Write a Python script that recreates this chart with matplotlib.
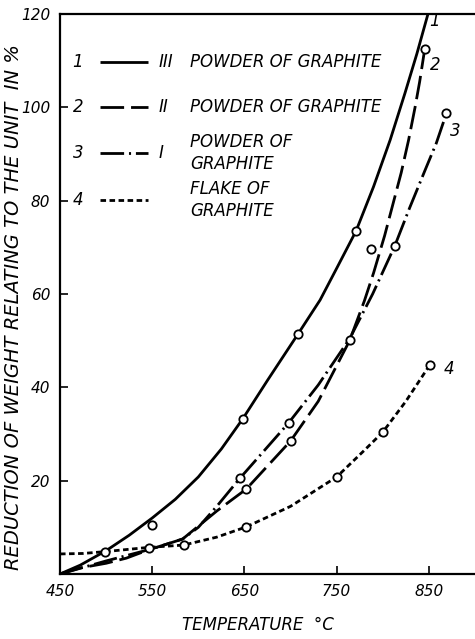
import matplotlib
matplotlib.use("Agg")
import matplotlib.pyplot as plt

plt.rcParams['font.family'] = ['Liberation Sans Narrow', 'DejaVu Sans']
plt.rcParams['font.style'] = 'italic'
plt.rcParams['lines.scale_dashes'] = False

# curve 1 - III powder of graphite
t1 = [450, 472, 500, 525, 550, 575, 600, 625, 648, 675, 708, 732, 750, 771, 790, 808, 824, 837, 849]
w1 = [0, 1.9, 5.0, 8.3, 12.0, 16.0, 20.8, 26.8, 33.2, 41.5, 51.4, 58.7, 65.5, 73.5, 83.0, 93.0, 103.0, 111.5, 120.0]
pt1 = [550, 648, 708, 771]
pw1 = [10.5, 33.2, 51.4, 73.5]

# curve 2 - II powder of graphite
t2 = [450, 472, 500, 522, 545, 583, 620, 652, 700, 730, 764, 780, 790, 802, 812, 820, 828, 835, 840, 845.5]
w2 = [0, 1.3, 2.3, 3.4, 5.1, 7.5, 13.5, 18.2, 28.5, 37.0, 50.0, 58.5, 64.5, 72.5, 80.0, 86.0, 93.0, 100.0, 105.5, 112.5]
pt2 = [652, 700, 764, 787, 845.5]
pw2 = [18.2, 28.5, 50.2, 69.6, 112.5]

# curve 3 - I powder of graphite
t3 = [450, 475, 500, 550, 583, 600, 620, 645, 698, 730, 764, 789, 813, 829, 846, 858, 869]
w3 = [0, 1.4, 2.8, 5.4, 7.5, 10.0, 14.5, 20.5, 32.4, 40.5, 50.4, 60.0, 70.3, 78.4, 86.6, 92.3, 98.7]
pt3 = [645, 698, 813, 869]
pw3 = [20.5, 32.4, 70.3, 98.7]

# curve 4 - flake of graphite
t4 = [450, 475, 499, 546, 584, 620, 652, 700, 750, 780, 800, 825, 851]
w4 = [4.3, 4.4, 4.8, 5.7, 6.2, 7.9, 10.1, 14.5, 20.8, 26.5, 30.4, 37.0, 44.8]
pt4 = [499, 546, 584, 652, 750, 800, 851]
pw4 = [4.8, 5.6, 6.2, 10.1, 20.8, 30.4, 44.8]

xticks = [450, 550, 650, 750, 850]
yticks = [20, 40, 60, 80, 100, 120]

styles = [
    (t1, w1, pt1, pw1, (0, ())),
    (t2, w2, pt2, pw2, (0, (17, 5))),
    (t3, w3, pt3, pw3, (0, (17, 3.5, 1.5, 3.5))),
    (t4, w4, pt4, pw4, (0, (4, 2.5))),
]

fig = plt.figure(figsize=(4.75, 6.39), dpi=100)
ax = fig.add_axes([60 / 475, 1 - 574 / 639, 415 / 475, 560 / 639])

for t, w, pt, pw, ls in styles:
    ax.plot(t, w, color='black', lw=2.0, linestyle=ls, solid_capstyle='butt')
    ax.plot(pt, pw, 'o', color='black', mfc='white', mew=1.3, ms=6, zorder=5)

# curve numbers at the line ends
ax.text(850, 118.5, '1', fontsize=12, va='center', ha='left')
ax.text(851, 109, '2', fontsize=12, va='center', ha='left')
ax.text(873, 95, '3', fontsize=12, va='center', ha='left')
ax.text(866, 44, '4', fontsize=12, va='center', ha='left')

# key in the upper left corner
rows = [0.914, 0.834, 0.752, 0.668]
nums = ['1', '2', '3', '4']
romans = ['III', 'II', 'I', '']
names = [['POWDER OF GRAPHITE'], ['POWDER OF GRAPHITE'],
         ['POWDER OF', 'GRAPHITE'], ['FLAKE OF', 'GRAPHITE']]
for y, n, r, nm, st in zip(rows, nums, romans, names, styles):
    ax.text(0.043, y, n, transform=ax.transAxes, fontsize=12, ha='center', va='center')
    ax.plot([0.096, 0.212], [y, y], transform=ax.transAxes, color='black',
            lw=2.0, linestyle=st[4], solid_capstyle='butt')
    if r:
        ax.text(0.238, y, r, transform=ax.transAxes, fontsize=12, ha='left', va='center')
    if len(nm) == 1:
        ax.text(0.313, y, nm[0], transform=ax.transAxes, fontsize=12, ha='left', va='center')
    else:
        ax.text(0.313, y + 0.019, nm[0], transform=ax.transAxes, fontsize=12, ha='left', va='center')
        ax.text(0.313, y - 0.019, nm[1], transform=ax.transAxes, fontsize=12, ha='left', va='center')

ax.set_xlim(450, 900)
ax.set_ylim(0, 120)
ax.set_xticks(xticks)
ax.set_yticks(yticks)
ax.tick_params(direction='in', length=6, width=1.2, labelsize=11, pad=7)
ax.spines['right'].set_visible(False)
for s in ['left', 'bottom', 'top']:
    ax.spines[s].set_linewidth(1.6)

ax.set_xlabel('TEMPERATURE  °C', fontsize=12)
ax.xaxis.set_label_coords(0.477, -0.075)
ax.set_ylabel('REDUCTION OF WEIGHT RELATING TO THE UNIT  IN %', fontsize=14, va='center')
ax.yaxis.set_label_coords(-0.112, 0.477)

fig.savefig('out.png', dpi=100)
